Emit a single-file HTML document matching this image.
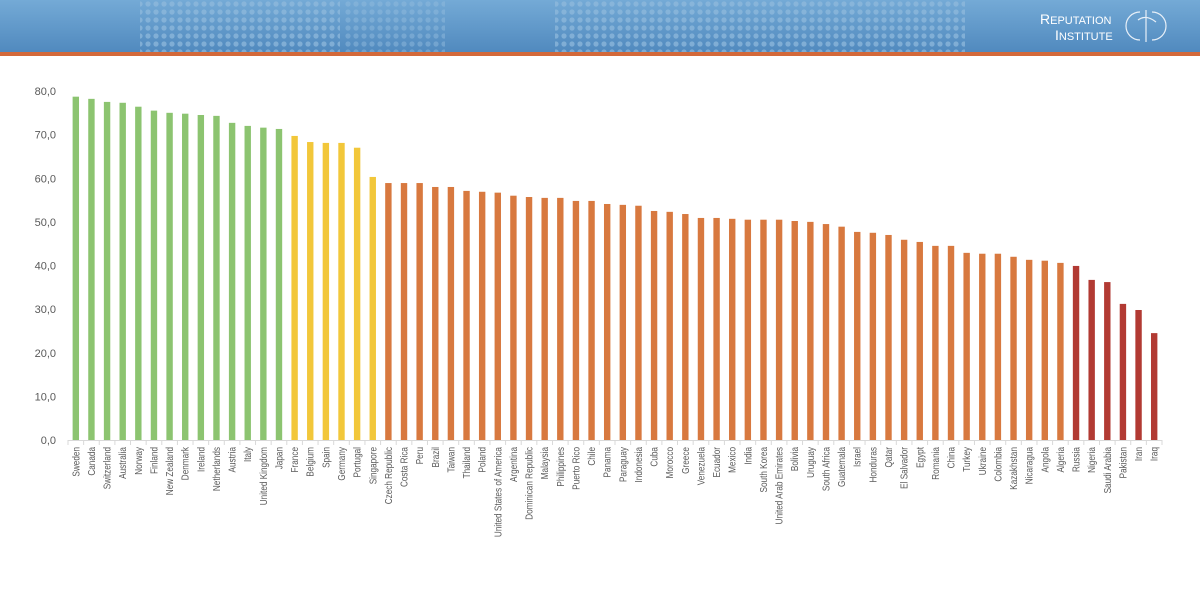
<!DOCTYPE html>
<html><head><meta charset="utf-8"><style>
body{margin:0;width:1200px;height:602px;background:#fff;overflow:hidden;font-family:"Liberation Sans",sans-serif}
</style></head><body>
<svg width="1200" height="602">
<defs>
<linearGradient id="hg" x1="0" y1="0" x2="0" y2="1"><stop offset="0" stop-color="#74aad6"/><stop offset="1" stop-color="#5089be"/></linearGradient>
<pattern id="dots" width="8" height="8" patternUnits="userSpaceOnUse"><circle cx="4" cy="4" r="2.6" fill="#92bbdd" opacity="0.7"/></pattern>
</defs>
<g>
<rect x="0" y="0" width="1200" height="53" fill="url(#hg)"/>
<rect x="140" y="0" width="200" height="52" fill="url(#dots)"/>
<rect x="345" y="0" width="100" height="52" fill="url(#dots)" opacity="0.7"/>
<rect x="555" y="0" width="410" height="52" fill="url(#dots)"/>
<rect x="0" y="52" width="1200" height="4" fill="#d3693a"/>
<text x="1040" y="24" font-size="14" fill="#fff">R<tspan font-size="11">EPUTATION</tspan></text>
<text x="1055" y="40" font-size="14" fill="#fff">I<tspan font-size="11">NSTITUTE</tspan></text>
<g fill="none" stroke="#e8f0f8" stroke-width="1.2">
<path d="M1140 12 A14 14 0 0 0 1140 40"/><path d="M1152 12 A14 14 0 0 1 1152 40"/>
<path d="M1138 20 Q1146 14 1156 22"/><path d="M1146 10 L1146 42"/>
</g>
</g>
<g id="plot"></g>
</svg>
<script>
const countries=["Sweden","Canada","Switzerland","Australia","Norway","Finland","New Zealand","Denmark","Ireland","Netherlands","Austria","Italy","United Kingdom","Japan","France","Belgium","Spain","Germany","Portugal","Singapore","Czech Republic","Costa Rica","Peru","Brazil","Taiwan","Thailand","Poland","United States of America","Argentina","Dominican Republic","Malaysia","Philippines","Puerto Rico","Chile","Panama","Paraguay","Indonesia","Cuba","Morocco","Greece","Venezuela","Ecuador","Mexico","India","South Korea","United Arab Emirates","Bolivia","Uruguay","South Africa","Guatemala","Israel","Honduras","Qatar","El Salvador","Egypt","Romania","China","Turkey","Ukraine","Colombia","Kazakhstan","Nicaragua","Angola","Algeria","Russia","Nigeria","Saudi Arabia","Pakistan","Iran","Iraq"];
const values=[78.7,78.2,77.5,77.3,76.4,75.5,75.0,74.8,74.5,74.3,72.7,72.0,71.6,71.3,69.7,68.3,68.1,68.1,67.0,60.3,58.9,58.9,58.9,58.0,58.0,57.1,56.9,56.7,56.0,55.7,55.5,55.5,54.8,54.8,54.1,53.9,53.7,52.5,52.3,51.8,50.9,50.9,50.7,50.5,50.5,50.5,50.2,50.0,49.5,48.9,47.7,47.5,47.0,45.9,45.4,44.5,44.5,42.9,42.7,42.7,42.0,41.3,41.1,40.6,39.9,36.7,36.2,31.2,29.8,24.5];
const ticks=[0,10,20,30,40,50,60,70,80];
const x0=68,x1=1162,y0=440,yTop=91;
const step=(x1-x0)/countries.length;
const y=v=>y0-(v/80)*(y0-yTop);
const xc=i=>x0+step*(i+0.5);
function col(v){return v>=70?"#8cc470":v>=60?"#f2c73a":v>=40.5?"#d8793f":"#b23a33";}
const NS="http://www.w3.org/2000/svg",g=document.getElementById('plot');
function mk(t,a,p){const e=document.createElementNS(NS,t);for(const k in a)e.setAttribute(k,a[k]);(p||g).appendChild(e);return e;}
ticks.forEach(t=>{const e=mk('text',{x:56,y:y(t)+4,'text-anchor':'end','font-size':11,fill:'#595959'});e.textContent=t.toFixed(1).replace('.',',');

});
const ax=mk('line',{x1:x0,y1:y0+0.5,x2:x1,y2:y0+0.5,stroke:'#d9d9d9'});


for(let i=0;i<=countries.length;i++){mk('line',{x1:x0+step*i,y1:y0,x2:x0+step*i,y2:y0+5,stroke:'#d9d9d9'});}
countries.forEach((c,i)=>{const v=values[i];
const b=mk('rect',{x:xc(i)-3.2,y:y(v),width:6.4,height:y0-y(v),fill:col(v)});


const t=mk('text',{transform:`translate(${xc(i)+3.5},447) rotate(-90) scale(0.82,1)`,'text-anchor':'end','font-size':10,fill:'#595959'});t.textContent=c;

});
</script>
</body></html>
